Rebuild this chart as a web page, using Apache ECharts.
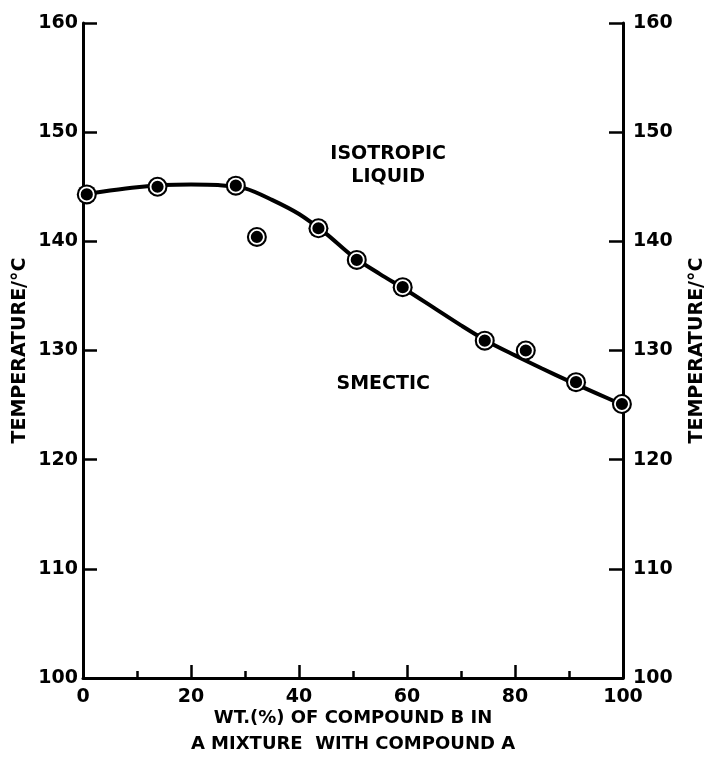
<!DOCTYPE html>
<html>
<head>
<meta charset="utf-8">
<script src="https://cdn.jsdelivr.net/npm/echarts@6/dist/echarts.min.js"></script>
<style>
  html, body { margin: 0; padding: 0; background: #fff; }
  #chart { width: 708px; height: 760px; }
</style>
</head>
<body>
<div id="chart"></div>
<script>
// measured points: wt.% of B vs transition temperature
const wt = [0.7, 13.8, 28.3, 32.2, 43.6, 50.7, 59.2, 74.4, 82.0, 91.3, 99.8]
const temp = [144.3, 145.0, 145.1, 140.4, 141.2, 138.3, 135.8, 130.9, 130.0, 127.1, 125.1]
// hand-drawn phase boundary
const curveX = [0, 5, 10, 15, 20, 25, 30, 35, 40, 45, 50, 55, 60, 65, 70, 75, 80, 85, 90, 95, 100]
const curveY = [144.3, 144.65, 144.95, 145.15, 145.2, 145.15, 144.85, 143.8, 142.5, 140.7, 138.6, 137.0, 135.5,
  133.9, 132.3, 130.8, 129.55, 128.35, 127.2, 126.1, 125.0]
const yTicks = [100, 110, 120, 130, 140, 150, 160]
const xTicks = [0, 20, 40, 60, 80, 100]
const regionNames = ['ISOTROPIC\nLIQUID', 'SMECTIC']
const regionPos = [[56.5, 146.9], [55.6, 126.95]]

const font = "'DejaVu Sans', 'Liberation Sans', sans-serif"
const ink = '#000'

const myChart = echarts.init(document.getElementById('chart'))

function yAxisOpt(side) {
  return {
    type: 'value',
    position: side,
    min: yTicks[0],
    max: yTicks[yTicks.length - 1],
    interval: 10,
    name: 'TEMPERATURE/°C',
    nameLocation: 'middle',
    nameGap: side === 'left' ? 53 : 65,
    nameMoveOverlap: false,
    nameTextStyle: { color: ink, fontFamily: font, fontWeight: 'bold', fontSize: 19 },
    axisLine: { show: true, lineStyle: { color: ink, width: 3 } },
    axisTick: { show: true, inside: true, length: 14, lineStyle: { color: ink, width: 2.5 } },
    axisLabel: { color: ink, fontFamily: font, fontWeight: 'bold', fontSize: 19, margin: side === 'left' ? 5 : 10 },
    splitLine: { show: false }
  }
}

const option = {
  backgroundColor: '#fff',
  animation: false,
  grid: { left: 83, right: 85, top: 23, bottom: 82, outerBoundsMode: 'none', containLabel: false },
  xAxis: {
    type: 'value',
    min: xTicks[0],
    max: xTicks[xTicks.length - 1],
    interval: 20,
    name: 'WT.(%) OF COMPOUND B IN\nA MIXTURE  WITH COMPOUND A',
    nameLocation: 'middle',
    nameGap: 27,
    nameMoveOverlap: false,
    nameTextStyle: { color: ink, fontFamily: font, fontWeight: 'bold', fontSize: 18, lineHeight: 26 },
    axisLine: { lineStyle: { color: ink, width: 3 } },
    axisTick: { inside: true, length: 13, lineStyle: { color: ink, width: 2.5 } },
    minorTick: { show: true, splitNumber: 2, length: 7, lineStyle: { color: ink, width: 2.5 } },
    axisLabel: { color: ink, fontFamily: font, fontWeight: 'bold', fontSize: 19, margin: 10 },
    splitLine: { show: false }
  },
  yAxis: [yAxisOpt('left'), yAxisOpt('right')],
  series: [
    {
      type: 'line',
      smooth: 0.3,
      symbol: 'none',
      data: curveX.map((x, i) => [x, curveY[i]]),
      lineStyle: { color: ink, width: 4 },
      z: 2
    },
    {
      // outer black ring
      type: 'scatter',
      symbol: 'circle',
      symbolSize: 20,
      data: wt.map((x, i) => [x, temp[i]]),
      itemStyle: { color: ink, opacity: 1 },
      z: 3
    },
    {
      // inner dot with thin white ring
      type: 'scatter',
      symbol: 'circle',
      symbolSize: 14,
      data: wt.map((x, i) => [x, temp[i]]),
      itemStyle: { color: ink, borderColor: '#fff', borderWidth: 1.8, opacity: 1 },
      z: 4
    },
    {
      // region labels
      type: 'scatter',
      symbol: 'circle',
      symbolSize: 0.1,
      data: regionPos.map((p, i) => ({ value: p, name: regionNames[i] })),
      itemStyle: { color: '#fff', opacity: 1 },
      label: {
        show: true,
        position: 'inside',
        formatter: p => p.name,
        color: '#000',
        opacity: 1,
        textBorderWidth: 0,
        fontFamily: font,
        fontWeight: 'bold',
        fontSize: 19,
        lineHeight: 23,
        align: 'center'
      },
      silent: true,
      z: 5
    }
  ]
}
myChart.setOption(option)
</script>
</body>
</html>
